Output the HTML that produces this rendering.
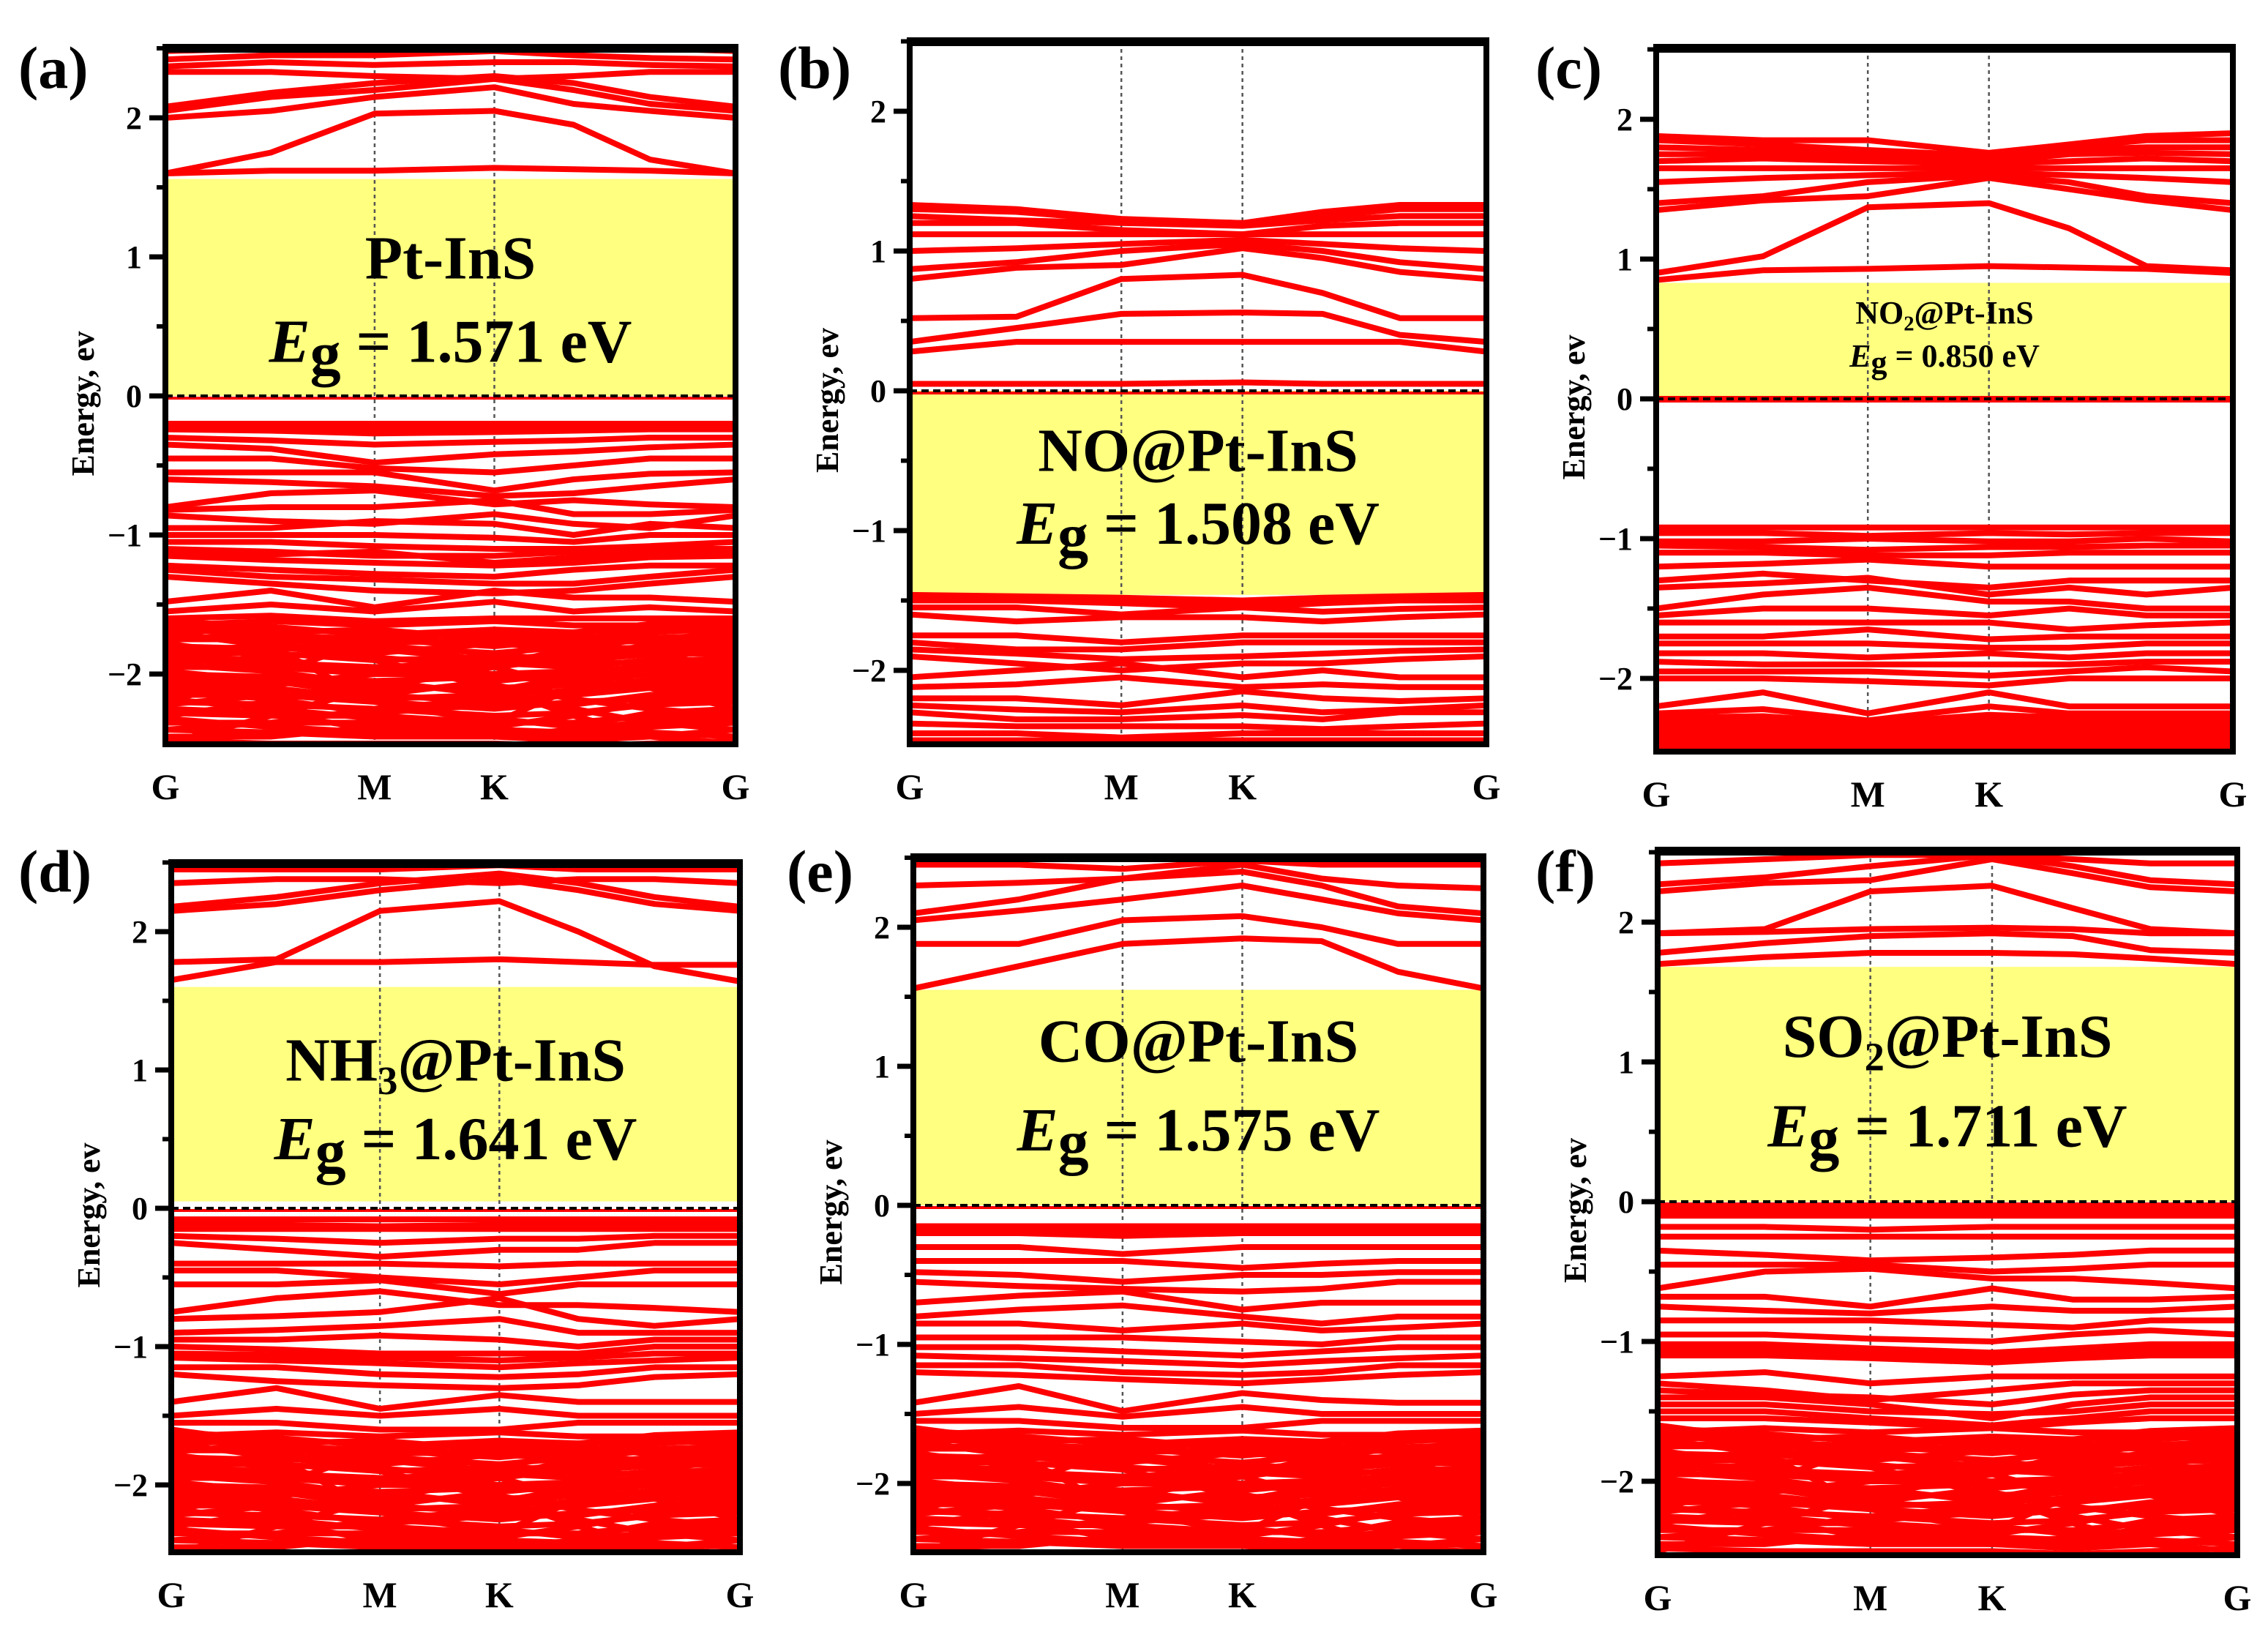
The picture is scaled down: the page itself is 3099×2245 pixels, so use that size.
<!DOCTYPE html>
<html><head><meta charset="utf-8"><style>
html,body{margin:0;padding:0;background:#fff}
svg{display:block}
text{font-family:"Liberation Serif",serif;font-weight:bold}
</style></head><body>
<svg id="fig" width="3099" height="2245" viewBox="0 0 3099 2245" xmlns="http://www.w3.org/2000/svg"></svg>
<script>
// ---------- data ----------
const kPath = [0, 0.185, 0.367, 0.577, 0.716, 0.85, 1];
const kTickLabels = ["G","M","K","G"];
const kTickPos = [0, 0.367, 0.577, 1];
const yTicks = [2,1,0,-1,-2];
const yTickLabels = ["2","1","0","\u22121","\u22122"];
const panelLetters = ["(a)","(b)","(c)","(d)","(e)","(f)"];
const panelNames = ["Pt-InS","NO@Pt-InS","NO2@Pt-InS","NH3@Pt-InS","CO@Pt-InS","SO2@Pt-InS"];
const gapValues = ["1.571","1.508","0.850","1.641","1.575","1.711"];
const gapLow = [0, -1.46, 0, 0.05, 0, 0];
const gapHigh = [1.56, 0, 0.83, 1.6, 1.55, 1.68];

const denseValence = [
[-1.65,-1.62,-1.65,-1.62,-1.65,-1.65,-1.65],
[-1.7,-1.68,-1.7,-1.72,-1.7,-1.68,-1.7],
[-1.75,-1.75,-1.78,-1.75,-1.78,-1.76,-1.75],
[-1.8,-1.82,-1.8,-1.85,-1.8,-1.82,-1.8],
[-1.85,-1.85,-1.9,-1.88,-1.9,-1.86,-1.85],
[-1.9,-1.92,-1.95,-1.92,-1.95,-1.9,-1.9],
[-1.95,-1.95,-2.0,-2.0,-1.98,-1.95,-1.95],
[-2.0,-2.02,-2.05,-2.02,-2.05,-2.0,-2.0],
[-2.05,-2.05,-2.1,-2.1,-2.08,-2.05,-2.05],
[-2.1,-2.12,-2.15,-2.2,-2.15,-2.1,-2.1],
[-2.15,-2.15,-2.2,-2.25,-2.2,-2.18,-2.15],
[-2.2,-2.22,-2.25,-2.3,-2.28,-2.22,-2.2],
[-2.28,-2.3,-2.3,-2.35,-2.35,-2.3,-2.28],
[-2.35,-2.35,-2.35,-2.4,-2.42,-2.38,-2.35],
[-2.4,-2.42,-2.45,-2.45,-2.48,-2.45,-2.4],
[-2.48,-2.5,-2.5,-2.5,-2.52,-2.5,-2.48],
[-1.6,-1.7,-1.9,-2.1,-2.3,-2.45,-2.5],
[-2.5,-2.3,-2.1,-1.95,-1.8,-1.7,-1.65],
[-1.7,-1.8,-2.2,-2.35,-2.1,-1.9,-1.8],
[-2.2,-2.0,-1.75,-1.7,-1.9,-2.1,-2.25],
[-1.62,-1.66,-1.72,-1.68,-1.7,-1.64,-1.62],
[-1.98,-2.05,-2.15,-2.05,-2.0,-1.98,-1.98],
[-2.3,-2.2,-2.05,-2.15,-2.25,-2.35,-2.4],
[-1.78,-1.88,-2.0,-1.9,-1.85,-1.8,-1.78],
[-1.67,-1.72,-1.75,-1.8,-1.75,-1.7,-1.67],
[-1.72,-1.78,-1.85,-1.78,-1.82,-1.74,-1.72],
[-1.83,-1.8,-1.88,-1.95,-1.88,-1.84,-1.83],
[-1.88,-1.9,-1.98,-1.85,-1.92,-1.92,-1.88],
[-1.93,-1.98,-2.08,-2.12,-2.02,-1.96,-1.93],
[-2.02,-2.08,-2.0,-1.95,-2.1,-2.04,-2.02],
[-2.08,-2.1,-2.18,-2.15,-2.12,-2.08,-2.08],
[-2.12,-2.18,-2.28,-2.22,-2.22,-2.15,-2.12],
[-2.18,-2.25,-2.32,-2.38,-2.3,-2.2,-2.18],
[-2.25,-2.28,-2.4,-2.32,-2.38,-2.28,-2.25],
[-2.32,-2.38,-2.42,-2.45,-2.4,-2.34,-2.32],
[-2.45,-2.45,-2.38,-2.42,-2.45,-2.42,-2.45],
[-1.64,-1.72,-1.82,-1.9,-1.95,-2.0,-2.05],
[-2.4,-2.35,-2.25,-2.18,-2.05,-1.95,-1.9],
[-1.76,-1.7,-1.68,-1.75,-1.72,-1.78,-1.76],
[-2.22,-2.15,-2.12,-2.08,-2.18,-2.25,-2.3]
];

const bandsA = [
[1.6,1.62,1.62,1.64,1.63,1.62,1.6],
[1.6,1.75,2.03,2.05,1.95,1.7,1.6],
[2.0,2.05,2.15,2.22,2.1,2.05,2.0],
[2.05,2.15,2.2,2.28,2.2,2.1,2.05],
[2.08,2.18,2.25,2.3,2.25,2.15,2.08],
[2.33,2.33,2.3,2.28,2.3,2.33,2.33],
[2.37,2.4,2.38,2.4,2.4,2.38,2.37],
[2.42,2.45,2.45,2.48,2.45,2.43,2.42],
[2.48,2.5,2.5,2.5,2.5,2.5,2.48],
[-0.2,-0.2,-0.2,-0.2,-0.2,-0.2,-0.2],
[-0.22,-0.22,-0.23,-0.22,-0.22,-0.22,-0.22],
[-0.24,-0.25,-0.27,-0.26,-0.25,-0.24,-0.24],
[-0.3,-0.32,-0.35,-0.33,-0.32,-0.3,-0.3],
[-0.35,-0.38,-0.48,-0.42,-0.4,-0.37,-0.35],
[-0.45,-0.45,-0.52,-0.55,-0.5,-0.45,-0.45],
[-0.55,-0.55,-0.55,-0.68,-0.6,-0.56,-0.55],
[-0.6,-0.62,-0.65,-0.72,-0.7,-0.65,-0.6],
[-0.8,-0.7,-0.68,-0.78,-0.75,-0.78,-0.8],
[-0.82,-0.8,-0.8,-0.75,-0.85,-0.85,-0.82],
[-0.86,-0.9,-0.92,-0.85,-0.92,-0.95,-0.86],
[-0.95,-0.95,-0.9,-0.92,-1.0,-0.92,-0.95],
[-1.0,-1.0,-1.0,-1.02,-1.05,-1.0,-1.0],
[-1.05,-1.05,-1.08,-1.1,-1.1,-1.08,-1.05],
[-1.1,-1.12,-1.15,-1.15,-1.12,-1.1,-1.1],
[-1.13,-1.14,-1.12,-1.2,-1.16,-1.13,-1.13],
[-1.15,-1.18,-1.2,-1.22,-1.2,-1.16,-1.15],
[-1.22,-1.25,-1.28,-1.3,-1.25,-1.22,-1.22],
[-1.25,-1.3,-1.32,-1.35,-1.35,-1.3,-1.25],
[-1.3,-1.35,-1.4,-1.42,-1.4,-1.35,-1.3],
[-1.48,-1.4,-1.52,-1.4,-1.45,-1.45,-1.48],
[-1.55,-1.5,-1.55,-1.48,-1.55,-1.52,-1.55],
[-1.6,-1.58,-1.62,-1.6,-1.6,-1.6,-1.6]
];
const bandsB = [
[0.05,0.05,0.05,0.06,0.05,0.05,0.05],
[0.28,0.35,0.35,0.35,0.35,0.35,0.28],
[0.35,0.45,0.55,0.56,0.55,0.4,0.35],
[0.52,0.53,0.8,0.83,0.7,0.52,0.52],
[0.8,0.88,0.9,1.02,0.95,0.85,0.8],
[0.87,0.92,1.0,1.05,1.0,0.92,0.87],
[1.0,1.02,1.05,1.08,1.05,1.02,1.0],
[1.12,1.12,1.12,1.12,1.12,1.12,1.12],
[1.2,1.2,1.15,1.12,1.18,1.2,1.2],
[1.25,1.22,1.2,1.18,1.22,1.25,1.25],
[1.3,1.28,1.22,1.2,1.25,1.3,1.3],
[1.33,1.3,1.23,1.2,1.28,1.33,1.33],
[-1.46,-1.47,-1.48,-1.5,-1.48,-1.47,-1.46],
[-1.48,-1.49,-1.5,-1.52,-1.5,-1.49,-1.48],
[-1.5,-1.5,-1.52,-1.55,-1.52,-1.5,-1.5],
[-1.55,-1.55,-1.6,-1.55,-1.58,-1.56,-1.55],
[-1.6,-1.65,-1.62,-1.62,-1.65,-1.62,-1.6],
[-1.75,-1.75,-1.8,-1.75,-1.75,-1.75,-1.75],
[-1.8,-1.85,-1.85,-1.8,-1.8,-1.8,-1.8],
[-1.85,-1.88,-1.92,-1.9,-1.88,-1.86,-1.85],
[-1.9,-1.95,-2.0,-1.95,-1.95,-1.92,-1.9],
[-2.05,-2.0,-1.95,-2.05,-2.0,-2.05,-2.05],
[-2.12,-2.1,-2.05,-2.12,-2.1,-2.12,-2.12],
[-2.2,-2.2,-2.25,-2.15,-2.2,-2.22,-2.2],
[-2.25,-2.28,-2.3,-2.25,-2.3,-2.28,-2.25],
[-2.3,-2.35,-2.35,-2.32,-2.35,-2.3,-2.3],
[-2.38,-2.4,-2.4,-2.4,-2.42,-2.4,-2.38],
[-2.45,-2.45,-2.48,-2.45,-2.45,-2.45,-2.45],
[-2.5,-2.5,-2.5,-2.5,-2.5,-2.5,-2.5]
];
const bandsC = [
[0.85,0.92,0.93,0.95,0.94,0.93,0.9],
[0.9,1.02,1.37,1.4,1.22,0.95,0.92],
[1.35,1.42,1.45,1.58,1.5,1.42,1.35],
[1.4,1.45,1.55,1.6,1.55,1.45,1.4],
[1.55,1.58,1.6,1.62,1.6,1.58,1.55],
[1.65,1.65,1.65,1.65,1.65,1.65,1.65],
[1.7,1.72,1.7,1.68,1.7,1.72,1.7],
[1.75,1.75,1.72,1.7,1.75,1.76,1.75],
[1.8,1.78,1.75,1.72,1.78,1.8,1.8],
[1.85,1.82,1.78,1.74,1.8,1.85,1.85],
[1.88,1.85,1.85,1.76,1.82,1.88,1.9],
[0,0,0,0,0,0,0],
[-0.92,-0.92,-0.92,-0.92,-0.92,-0.92,-0.92],
[-0.96,-0.96,-0.98,-0.96,-0.97,-0.96,-0.96],
[-1.02,-1.02,-1.0,-1.02,-1.02,-1.0,-1.02],
[-1.05,-1.06,-1.08,-1.06,-1.06,-1.05,-1.05],
[-1.1,-1.1,-1.12,-1.12,-1.1,-1.1,-1.1],
[-1.2,-1.18,-1.15,-1.2,-1.2,-1.2,-1.2],
[-1.3,-1.25,-1.3,-1.35,-1.3,-1.3,-1.3],
[-1.35,-1.32,-1.28,-1.4,-1.35,-1.4,-1.35],
[-1.5,-1.4,-1.35,-1.45,-1.45,-1.5,-1.5],
[-1.55,-1.5,-1.5,-1.55,-1.5,-1.55,-1.55],
[-1.6,-1.6,-1.6,-1.6,-1.65,-1.62,-1.6],
[-1.7,-1.7,-1.65,-1.72,-1.7,-1.7,-1.7],
[-1.75,-1.75,-1.75,-1.78,-1.78,-1.75,-1.75],
[-1.82,-1.82,-1.85,-1.82,-1.85,-1.82,-1.82],
[-1.88,-1.9,-1.9,-1.9,-1.9,-1.88,-1.88],
[-1.95,-1.95,-1.95,-1.98,-1.95,-1.92,-1.95],
[-2.0,-2.0,-2.02,-2.05,-2.0,-2.0,-2.0],
[-2.2,-2.1,-2.25,-2.1,-2.2,-2.2,-2.2],
[-2.25,-2.22,-2.3,-2.2,-2.25,-2.25,-2.25],
[-2.28,-2.27,-2.32,-2.26,-2.28,-2.28,-2.28],
[-2.3,-2.3,-2.35,-2.3,-2.32,-2.3,-2.3],
[-2.33,-2.33,-2.37,-2.34,-2.35,-2.33,-2.33],
[-2.35,-2.35,-2.4,-2.38,-2.38,-2.35,-2.35],
[-2.38,-2.38,-2.41,-2.4,-2.4,-2.38,-2.38],
[-2.4,-2.4,-2.42,-2.42,-2.42,-2.4,-2.4],
[-2.43,-2.43,-2.44,-2.44,-2.44,-2.43,-2.43],
[-2.45,-2.45,-2.45,-2.46,-2.46,-2.45,-2.45],
[-2.48,-2.48,-2.48,-2.48,-2.48,-2.48,-2.48],
[-2.5,-2.5,-2.5,-2.5,-2.5,-2.5,-2.5]
];
const bandsD = [
[1.65,1.78,1.78,1.8,1.78,1.76,1.76],
[1.78,1.8,2.15,2.22,2.0,1.75,1.64],
[2.15,2.2,2.3,2.38,2.3,2.2,2.15],
[2.18,2.25,2.35,2.42,2.35,2.25,2.18],
[2.35,2.38,2.38,2.35,2.38,2.38,2.35],
[2.45,2.45,2.45,2.48,2.45,2.45,2.45],
[-0.08,-0.08,-0.08,-0.08,-0.08,-0.08,-0.08],
[-0.12,-0.12,-0.13,-0.12,-0.12,-0.12,-0.12],
[-0.15,-0.15,-0.15,-0.15,-0.15,-0.15,-0.15],
[-0.2,-0.22,-0.25,-0.22,-0.22,-0.2,-0.2],
[-0.25,-0.3,-0.35,-0.3,-0.3,-0.25,-0.25],
[-0.4,-0.4,-0.4,-0.42,-0.4,-0.4,-0.4],
[-0.45,-0.45,-0.5,-0.55,-0.5,-0.45,-0.45],
[-0.55,-0.55,-0.52,-0.62,-0.55,-0.55,-0.55],
[-0.75,-0.65,-0.6,-0.7,-0.7,-0.72,-0.75],
[-0.8,-0.78,-0.75,-0.65,-0.8,-0.85,-0.8],
[-0.9,-0.88,-0.85,-0.8,-0.9,-0.9,-0.9],
[-0.95,-0.95,-0.92,-0.95,-1.0,-0.95,-0.95],
[-1.0,-1.02,-1.05,-1.05,-1.05,-1.0,-1.0],
[-1.05,-1.06,-1.08,-1.1,-1.08,-1.05,-1.05],
[-1.08,-1.1,-1.12,-1.15,-1.12,-1.1,-1.08],
[-1.15,-1.15,-1.2,-1.22,-1.2,-1.15,-1.15],
[-1.2,-1.25,-1.28,-1.3,-1.28,-1.22,-1.2],
[-1.4,-1.3,-1.45,-1.35,-1.4,-1.4,-1.4],
[-1.5,-1.45,-1.5,-1.45,-1.5,-1.5,-1.5],
[-1.55,-1.55,-1.6,-1.6,-1.55,-1.55,-1.55]
];
const bandsE = [
[1.56,1.72,1.88,1.92,1.9,1.68,1.56],
[1.88,1.88,2.05,2.08,2.0,1.88,1.88],
[2.05,2.12,2.2,2.3,2.2,2.1,2.05],
[2.1,2.2,2.35,2.4,2.3,2.15,2.1],
[2.3,2.32,2.35,2.45,2.35,2.3,2.28],
[2.45,2.45,2.42,2.48,2.45,2.45,2.45],
[-0.15,-0.15,-0.15,-0.15,-0.15,-0.15,-0.15],
[-0.18,-0.18,-0.18,-0.18,-0.18,-0.18,-0.18],
[-0.2,-0.2,-0.22,-0.2,-0.2,-0.2,-0.2],
[-0.3,-0.3,-0.35,-0.3,-0.3,-0.3,-0.3],
[-0.4,-0.4,-0.4,-0.45,-0.42,-0.4,-0.4],
[-0.48,-0.5,-0.55,-0.5,-0.5,-0.48,-0.48],
[-0.55,-0.58,-0.6,-0.62,-0.6,-0.55,-0.55],
[-0.7,-0.65,-0.62,-0.75,-0.7,-0.7,-0.7],
[-0.8,-0.75,-0.72,-0.8,-0.85,-0.8,-0.8],
[-0.85,-0.85,-0.9,-0.85,-0.9,-0.88,-0.85],
[-0.95,-0.95,-0.95,-0.98,-1.0,-0.95,-0.95],
[-1.02,-1.02,-1.05,-1.08,-1.05,-1.02,-1.02],
[-1.08,-1.1,-1.12,-1.15,-1.12,-1.1,-1.08],
[-1.15,-1.15,-1.2,-1.22,-1.2,-1.15,-1.15],
[-1.2,-1.22,-1.25,-1.28,-1.25,-1.22,-1.2],
[-1.42,-1.3,-1.48,-1.35,-1.4,-1.42,-1.42],
[-1.5,-1.45,-1.52,-1.45,-1.5,-1.5,-1.5],
[-1.55,-1.55,-1.6,-1.6,-1.55,-1.55,-1.55]
];
const bandsF = [
[1.7,1.75,1.78,1.78,1.77,1.74,1.7],
[1.78,1.85,1.9,1.92,1.9,1.8,1.78],
[1.92,1.93,1.95,1.96,1.95,1.92,1.92],
[1.92,1.95,2.22,2.26,2.1,1.95,1.92],
[2.22,2.28,2.3,2.45,2.35,2.25,2.22],
[2.27,2.32,2.4,2.48,2.4,2.3,2.27],
[2.42,2.45,2.48,2.48,2.45,2.42,2.42],
[-0.03,-0.03,-0.03,-0.03,-0.03,-0.03,-0.03],
[-0.06,-0.06,-0.07,-0.06,-0.06,-0.06,-0.06],
[-0.1,-0.1,-0.1,-0.1,-0.1,-0.1,-0.1],
[-0.18,-0.18,-0.2,-0.18,-0.18,-0.18,-0.18],
[-0.25,-0.25,-0.25,-0.25,-0.25,-0.25,-0.25],
[-0.35,-0.38,-0.42,-0.4,-0.38,-0.35,-0.35],
[-0.45,-0.45,-0.45,-0.5,-0.48,-0.45,-0.45],
[-0.62,-0.5,-0.48,-0.55,-0.55,-0.58,-0.62],
[-0.68,-0.68,-0.75,-0.62,-0.7,-0.7,-0.68],
[-0.75,-0.78,-0.8,-0.75,-0.78,-0.78,-0.75],
[-0.85,-0.85,-0.85,-0.88,-0.9,-0.85,-0.85],
[-0.95,-0.95,-0.98,-1.0,-0.95,-0.92,-0.95],
[-1.02,-1.02,-1.05,-1.08,-1.05,-1.02,-1.02],
[-1.06,-1.06,-1.08,-1.12,-1.08,-1.06,-1.06],
[-1.1,-1.1,-1.12,-1.15,-1.12,-1.1,-1.1],
[-1.25,-1.22,-1.3,-1.25,-1.25,-1.25,-1.25],
[-1.3,-1.35,-1.42,-1.35,-1.3,-1.3,-1.3],
[-1.35,-1.38,-1.4,-1.45,-1.38,-1.35,-1.35],
[-1.4,-1.4,-1.45,-1.55,-1.45,-1.4,-1.4],
[-1.45,-1.45,-1.5,-1.52,-1.5,-1.45,-1.45],
[-1.5,-1.5,-1.55,-1.6,-1.55,-1.5,-1.5],
[-1.55,-1.55,-1.58,-1.62,-1.58,-1.55,-1.55]
];
const panelBands = [bandsA, bandsB, bandsC, bandsD, bandsE, bandsF];
const useDense = [true, false, false, true, true, true];

// ---------- layout ----------
const layout = [
 {l:226,r:1005,t:66,b:1017,y0:541,u:190, lx:25,ly:120, t1:1.0,t2:0.4,fs:84},
 {l:1243,r:2031,t:57,b:1017,y0:534,u:191, lx:1063,ly:120, t1:-0.42,t2:-0.94,fs:84},
 {l:2263,r:3051,t:66,b:1027,y0:545,u:191, lx:2098,ly:120, t1:0.62,t2:0.31,fs:44},
 {l:234,r:1011,t:1180,b:2121,y0:1651,u:189, lx:25,ly:1218, t1:1.08,t2:0.51,fs:84},
 {l:1248,r:2027,t:1172,b:2121,y0:1647,u:190, lx:1075,ly:1218, t1:1.19,t2:0.55,fs:84},
 {l:2265,r:3057,t:1163,b:2125,y0:1642,u:191, lx:2098,ly:1218, t1:1.19,t2:0.55,fs:84}
];
const NS="http://www.w3.org/2000/svg";
const svg=document.getElementById('fig');
function el(tag,attrs,parent){const e=document.createElementNS(NS,tag);for(const k in attrs)e.setAttribute(k,attrs[k]);(parent||svg).appendChild(e);return e;}

layout.forEach((L,pi)=>{
  const g=el('g',{});
  
  
  const X=k=>L.l+k*(L.r-L.l);
  const Y=e=>L.y0-e*L.u;
  const clipId='clip'+pi;
  const cp=el('clipPath',{id:clipId},g);
  el('rect',{x:L.l,y:L.t,width:L.r-L.l,height:L.b-L.t},cp);
  const plot=el('g',{'clip-path':'url(#'+clipId+')'},g);
  const gap=el('rect',{x:L.l,y:Y(gapHigh[pi]),width:L.r-L.l,height:Y(gapLow[pi])-Y(gapHigh[pi]),fill:'#ffff80'},plot);
  
  
  [kTickPos[1],kTickPos[2]].forEach(k=>{
    const v=el('line',{x1:X(k),x2:X(k),y1:L.t,y2:L.b,stroke:'#555','stroke-width':2.5,'stroke-dasharray':'5 5'},plot);
    
    
  });
  const all = useDense[pi] ? panelBands[pi].concat(denseValence) : panelBands[pi];
  all.forEach(b=>{
    const pts=b.map((e,i)=>X(kPath[i]).toFixed(1)+','+Y(e).toFixed(1)).join(' ');
    const p=el('polyline',{points:pts,fill:'none',stroke:'#ff0000','stroke-width':8,'stroke-linejoin':'round'},plot);
    
    
  });
  el('line',{x1:L.l,x2:L.r,y1:Y(0)+3,y2:Y(0)+3,stroke:'#ff0000','stroke-width':4},plot);
  const fl=el('line',{x1:L.l,x2:L.r,y1:Y(0),y2:Y(0),stroke:'#000','stroke-width':4,'stroke-dasharray':'10 6'},plot);
  
  
  const fr=el('rect',{x:L.l,y:L.t,width:L.r-L.l,height:L.b-L.t,fill:'none',stroke:'#000','stroke-width':8},g);
  
  
  el('line',{x1:L.l-4,x2:L.r+4,y1:L.t,y2:L.t,stroke:'#000','stroke-width':12},g);
  yTicks.forEach((v,i)=>{
    el('line',{x1:L.l-22,x2:L.l,y1:Y(v),y2:Y(v),stroke:'#000','stroke-width':7},g);
    el('line',{x1:L.l-12,x2:L.l,y1:Y(v+0.5),y2:Y(v+0.5),stroke:'#000','stroke-width':6},g);
    const t=el('text',{x:L.l-32,y:Y(v)+15,'text-anchor':'end','font-size':44},g);
    t.textContent=yTickLabels[i];
    
    
  });
  el('line',{x1:L.l-12,x2:L.l,y1:Y(-1.5),y2:Y(-1.5),stroke:'#000','stroke-width':6},g);
  kTickPos.forEach((k,i)=>{
    const t=el('text',{x:X(k),y:L.b+75,'text-anchor':'middle','font-size':50},g);
    t.textContent=kTickLabels[i];
    
    
  });
  const cy=(L.t+L.b)/2+10;
  const yt=el('text',{x:L.l-98,y:cy,'text-anchor':'middle','font-size':44,transform:'rotate(-90 '+(L.l-98)+' '+cy+')'},g);
  yt.textContent='Energy, ev';
  
  
  const pl=el('text',{x:L.lx,y:L.ly,'font-size':82},g);
  pl.textContent=panelLetters[pi];
  
  
  const cx=(L.l+L.r)/2;
  const fs=L.fs;
  const n=el('text',{x:cx,y:Y(L.t1)+fs*0.35,'text-anchor':'middle','font-size':fs},g);
  
  
  const nm=panelNames[pi];
  const m=nm.match(/^([A-Z]+)(\d)(.*)$/);
  if(m){
    const s1=el('tspan',{},n);s1.textContent=m[1];
    const s2=el('tspan',{dy:fs*0.22,'font-size':fs*0.65},n);s2.textContent=m[2];
    const s3=el('tspan',{dy:-fs*0.22},n);s3.textContent=m[3];
  } else n.textContent=nm;
  const e=el('text',{x:cx,y:Y(L.t2)+fs*0.35,'text-anchor':'middle','font-size':fs},g);
  
  
  const a=el('tspan',{'font-style':'italic'},e);a.textContent='E';
  const b=el('tspan',{dy:fs*0.2},e);b.textContent='g';
  const c=el('tspan',{dy:-fs*0.2},e);c.textContent=' = '+gapValues[pi]+' eV';
});
</script>
</body></html>
